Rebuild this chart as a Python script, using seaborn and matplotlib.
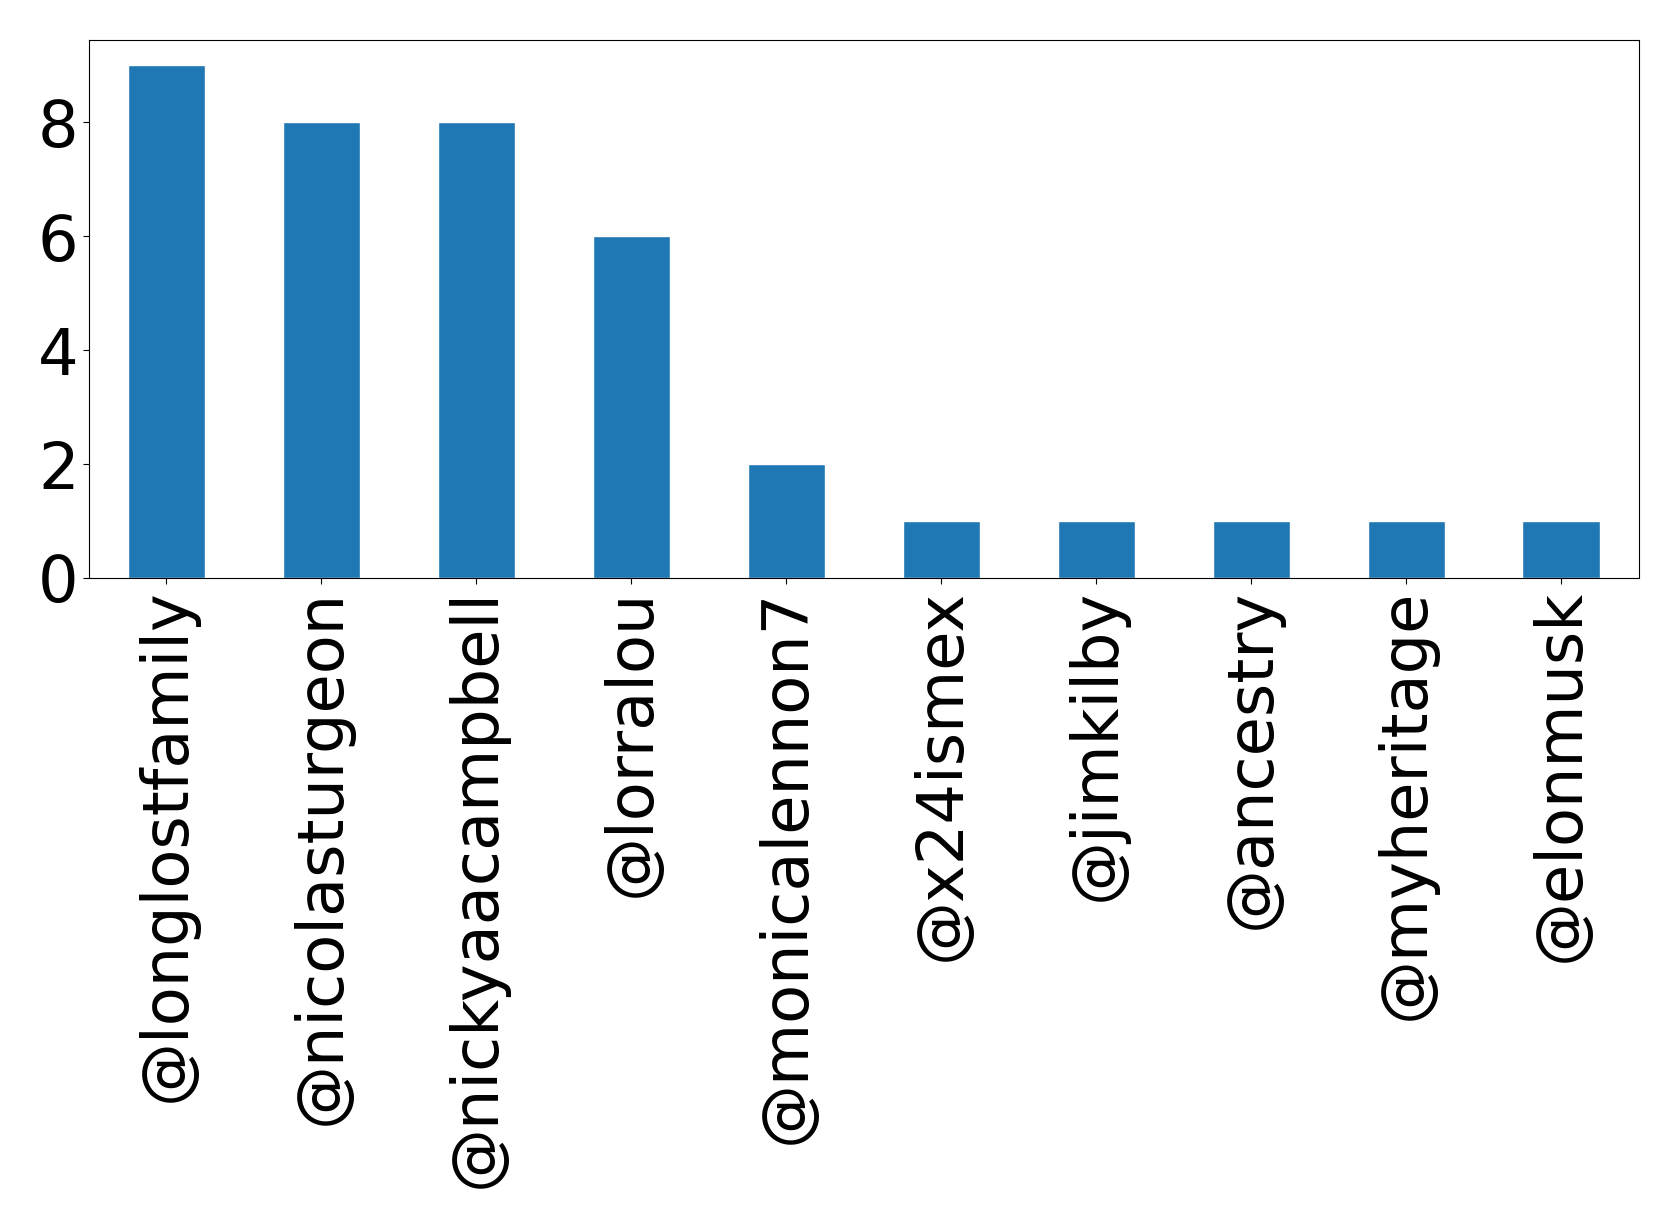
import seaborn as sns
import pandas as pd
import matplotlib.pyplot as plt

users = ["@longlostfamily", "@nicolasturgeon", "@nickyaacampbell", "@lorralou",
         "@monicalennon7", "@x24ismex", "@jimkilby", "@ancestry", "@myheritage", "@elonmusk"]
counts = [9, 8, 8, 6, 2, 1, 1, 1, 1, 1]

sns.set_style("white")
plt.rcParams['font.family'] = ['DejaVu Sans']

df = pd.DataFrame({"user": users, "count": counts})

fig = plt.figure(figsize=(16.79, 12.15), dpi=100)
ax = fig.add_axes([0.053, 0.5243, 0.923, 0.4431])
sns.barplot(data=df, x="user", y="count", color="#1f77b4", saturation=1, width=0.5, ax=ax)
ax.set_xlabel("")
ax.set_ylabel("")
ax.set_xlim(-0.5, len(users) - 0.5)
ax.set_ylim(0, 9.45)
ax.set_yticks([0, 2, 4, 6, 8])
ax.tick_params(axis="x", labelrotation=90, labelsize=46, bottom=True, length=4,
               colors="black")
ax.tick_params(axis="y", labelsize=46, left=True, length=4, colors="black")
for s in ax.spines.values():
    s.set_color("black")
    s.set_linewidth(0.8)

plt.savefig("out.png", dpi=100)
